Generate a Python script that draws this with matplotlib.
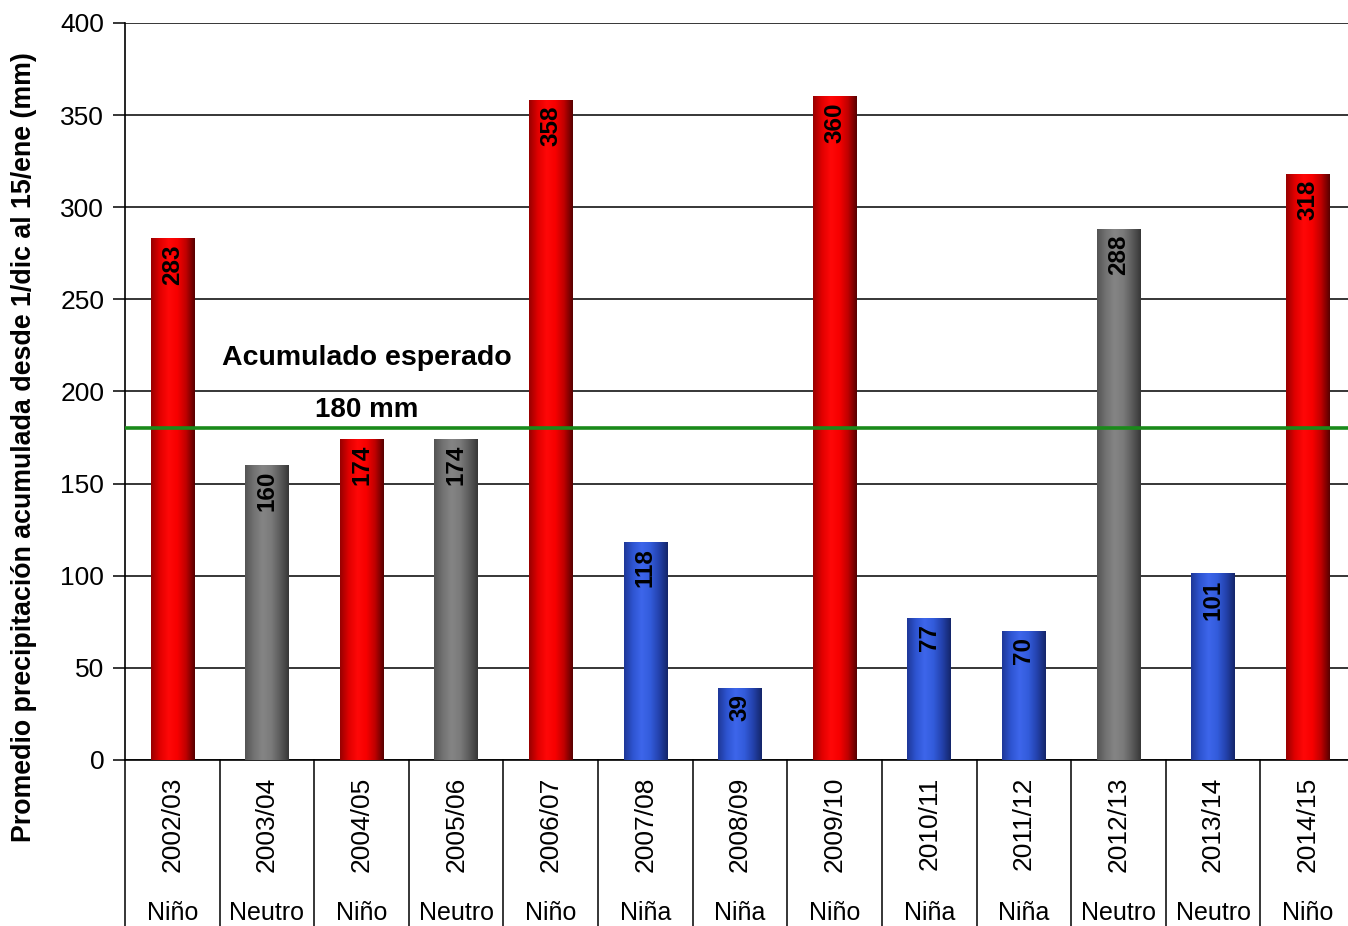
import numpy as np
import matplotlib
matplotlib.use("Agg")
import matplotlib.pyplot as plt
import matplotlib.transforms as mtransforms

# data
years = ["2002/03", "2003/04", "2004/05", "2005/06", "2006/07", "2007/08", "2008/09",
         "2009/10", "2010/11", "2011/12", "2012/13", "2013/14", "2014/15"]
phases = ["Niño", "Neutro", "Niño", "Neutro", "Niño", "Niña", "Niña",
          "Niño", "Niña", "Niña", "Neutro", "Neutro", "Niño"]
values = [283, 160, 174, 174, 358, 118, 39, 360, 77, 70, 288, 101, 318]
bar_kind = ["r", "g", "r", "g", "r", "b", "b", "r", "b", "b", "g", "b", "r"]
expected = 180

plt.rcParams['font.family'] = ['Liberation Sans', 'DejaVu Sans']

# cylinder-like shading: colour across the bar width (left -> right)
shades = {
    "r": [(0.60, 0, 0), (0.88, 0, 0), (1.0, 0.03, 0.03), (0.97, 0.0, 0.0), (0.75, 0, 0), (0.35, 0, 0)],
    "g": [(0.33, 0.33, 0.33), (0.45, 0.45, 0.45), (0.52, 0.52, 0.52), (0.48, 0.48, 0.48), (0.36, 0.36, 0.36), (0.22, 0.22, 0.22)],
    "b": [(0.12, 0.22, 0.60), (0.18, 0.33, 0.82), (0.24, 0.40, 0.92), (0.20, 0.36, 0.86), (0.14, 0.26, 0.68), (0.08, 0.15, 0.42)],
}

def gradient(kind, n=64):
    cols = np.array(shades[kind])
    xs = np.linspace(0, 1, len(cols))
    t = np.linspace(0, 1, n)
    img = np.stack([np.interp(t, xs, cols[:, c]) for c in range(3)], axis=-1)
    return img[np.newaxis, :, :]

fig = plt.figure(figsize=(13.48, 9.26), dpi=100)
ax = fig.add_axes([0.0927, 0.1793, 0.9125, 0.7959])

x = np.arange(len(years))
bars = ax.bar(x, values, width=0.46, color="none", zorder=3)
for b, k in zip(bars, bar_kind):
    x0 = b.get_x()
    ax.imshow(gradient(k), extent=(x0, x0 + b.get_width(), 0, b.get_height()),
              aspect="auto", zorder=3, interpolation="bilinear")

for xi, v in zip(x, values):
    ax.text(xi, v - 3, str(v), rotation=90, ha="center", va="top",
            fontsize=17.5, fontweight="bold", color="black", zorder=5)

ax.axhline(expected, color="#1a8a1a", linewidth=2.6, zorder=4)
ax.text(2.06, 218, "Acumulado esperado", ha="center", va="center",
        fontsize=20.5, fontweight="bold", zorder=5)
ax.text(2.06, 190, "%d mm" % expected, ha="center", va="center",
        fontsize=20, fontweight="bold", zorder=5)

ax.set_xlim(-0.5, len(years) - 0.5)
ax.set_ylim(0, 400)
ax.set_yticks(np.arange(0, 401, 50))
ax.yaxis.grid(True, color="black", linewidth=1.1)
ax.set_axisbelow(True)
ax.tick_params(axis="y", labelsize=19, length=9, width=1.1, pad=6)

ax.set_xticks(x)
ax.set_xticklabels(years, rotation=90, fontsize=19)
ax.tick_params(axis="x", length=0, pad=12)

for s in ["top", "right"]:
    ax.spines[s].set_visible(False)
for s in ["left", "bottom"]:
    ax.spines[s].set_linewidth(1.2)

# two-level category axis: separators and ENSO phase labels
trans = mtransforms.blended_transform_factory(ax.transData, ax.transAxes)
for k in range(len(years) + 1):
    ax.plot([k - 0.5, k - 0.5], [0, -0.25], color="black", linewidth=1.1,
            transform=trans, clip_on=False)
for xi, p in zip(x, phases):
    ax.text(xi, -0.208, p, ha="center", va="center", fontsize=18,
            transform=trans)

ax.set_ylabel("Promedio precipitación acumulada desde 1/dic al 15/ene (mm)",
              fontsize=19.3, fontweight="bold")
ax.yaxis.set_label_coords(-0.0715, 0.425)

fig.savefig("out.png", dpi=100)
